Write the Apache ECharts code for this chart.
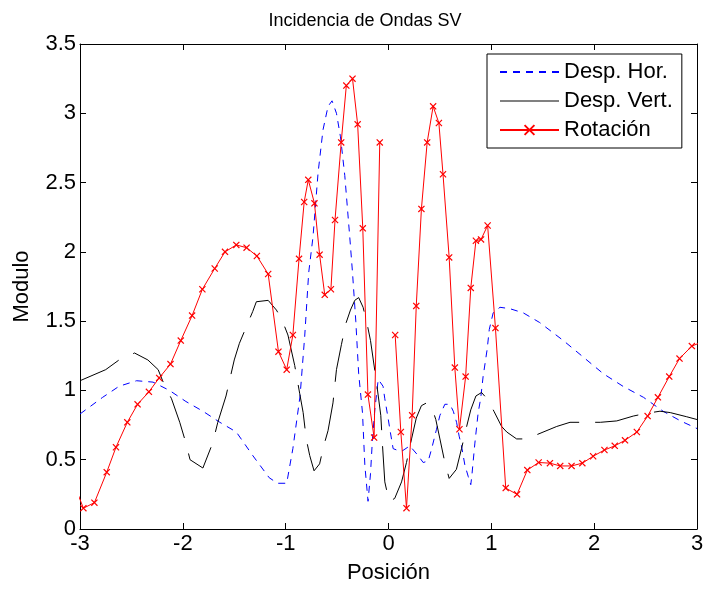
<!DOCTYPE html>
<html>
<head>
<meta charset="utf-8">
<script src="https://cdn.jsdelivr.net/npm/echarts@6/dist/echarts.min.js"></script>
<style>
html,body{margin:0;padding:0;background:#fff;}
#chart{width:718px;height:589px;}
</style>
</head>
<body>
<div id="chart"></div>
<script>
const titleText = 'Incidencia de Ondas SV';
const xName = 'Posición';
const yName = 'Modulo';
const seriesNames = ['Desp. Hor.', 'Desp. Vert.', 'Rotación'];

const horData = [[-3.0,0.83],[-2.78,0.95],[-2.62,1.03],[-2.45,1.07],[-2.29,1.06],[-2.13,1.00],[-1.97,0.92],[-1.805,0.85],[-1.64,0.77],[-1.48,0.70],[-1.32,0.53],[-1.16,0.37],[-1.08,0.33],[-0.99,0.33],[-0.93,0.58],[-0.86,0.96],[-0.815,1.39],[-0.776,1.85],[-0.734,2.11],[-0.685,2.57],[-0.637,2.88],[-0.588,3.05],[-0.549,3.09],[-0.506,3.00],[-0.467,2.83],[-0.425,2.55],[-0.377,2.11],[-0.35,1.85],[-0.318,1.5],[-0.29,1.12],[-0.253,0.84],[-0.23,0.46],[-0.199,0.20],[-0.175,0.40],[-0.156,0.65],[-0.133,0.86],[-0.10,1.08],[-0.085,1.09],[-0.053,1.03],[-0.036,0.94],[-0.004,0.80],[0.013,0.72],[0.045,0.58],[0.08,0.57],[0.127,0.56],[0.207,0.60],[0.288,0.53],[0.337,0.48],[0.386,0.49],[0.42,0.58],[0.467,0.72],[0.50,0.82],[0.548,0.90],[0.597,0.90],[0.63,0.85],[0.662,0.77],[0.687,0.67],[0.71,0.60],[0.743,0.46],[0.775,0.38],[0.80,0.32],[0.81,0.38],[0.84,0.62],[0.872,0.84],[0.896,0.94],[0.92,1.10],[0.96,1.30],[0.98,1.44],[1.018,1.56],[1.084,1.60],[1.18,1.59],[1.31,1.56],[1.47,1.49],[1.70,1.36],[1.895,1.24],[2.09,1.12],[2.28,1.03],[2.48,0.95],[2.67,0.85],[2.84,0.78],[3.0,0.725]];

const vertData = [[-3.0,1.07],[-2.75,1.15],[-2.62,1.22],[-2.47,1.27],[-2.34,1.22],[-2.24,1.15],[-2.18,1.04],[-2.11,0.94],[-2.03,0.77],[-1.97,0.62],[-1.93,0.50],[-1.805,0.44],[-1.71,0.62],[-1.66,0.77],[-1.58,0.96],[-1.50,1.22],[-1.45,1.34],[-1.32,1.57],[-1.285,1.64],[-1.17,1.65],[-1.09,1.58],[-1.036,1.51],[-0.978,1.40],[-0.912,1.18],[-0.864,0.98],[-0.83,0.84],[-0.80,0.65],[-0.766,0.53],[-0.724,0.42],[-0.67,0.47],[-0.63,0.60],[-0.588,0.71],[-0.54,0.91],[-0.506,1.15],[-0.458,1.33],[-0.416,1.48],[-0.37,1.58],[-0.328,1.65],[-0.29,1.67],[-0.247,1.60],[-0.208,1.48],[-0.175,1.36],[-0.117,1.06],[-0.075,0.82],[-0.058,0.60],[-0.036,0.34],[0.006,0.20],[0.06,0.22],[0.127,0.34],[0.175,0.48],[0.224,0.65],[0.27,0.80],[0.32,0.89],[0.37,0.91],[0.42,0.88],[0.46,0.79],[0.50,0.65],[0.548,0.48],[0.59,0.365],[0.66,0.43],[0.71,0.58],[0.76,0.74],[0.80,0.86],[0.85,0.96],[0.905,0.985],[0.97,0.93],[1.025,0.85],[1.10,0.74],[1.15,0.70],[1.246,0.65],[1.344,0.65],[1.44,0.68],[1.636,0.74],[1.765,0.77],[1.895,0.77],[2.06,0.77],[2.22,0.78],[2.38,0.815],[2.51,0.835],[2.64,0.85],[2.74,0.84],[2.90,0.81],[3.0,0.79]];

const rotData = [[-3.04,0.29],[-2.967,0.15],[-2.86,0.19],[-2.74,0.41],[-2.65,0.59],[-2.54,0.77],[-2.44,0.90],[-2.33,0.99],[-2.23,1.09],[-2.12,1.19],[-2.02,1.36],[-1.91,1.54],[-1.81,1.73],[-1.69,1.88],[-1.59,2.00],[-1.48,2.05],[-1.38,2.03],[-1.28,1.97],[-1.17,1.84],[-1.07,1.28],[-0.99,1.15],[-0.93,1.40],[-0.87,1.95],[-0.82,2.36],[-0.78,2.52],[-0.72,2.35],[-0.67,1.98],[-0.62,1.69],[-0.56,1.73],[-0.52,2.23],[-0.46,2.79],[-0.41,3.20],[-0.35,3.25],[-0.30,2.92],[-0.25,2.17],[-0.20,0.97],[-0.14,0.66],[-0.085,2.79],[0,'-'],[0.065,1.40],[0.12,0.70],[0.175,0.15],[0.23,0.82],[0.27,1.61],[0.32,2.31],[0.376,2.79],[0.434,3.05],[0.49,2.93],[0.53,2.56],[0.59,1.96],[0.645,1.165],[0.69,0.72],[0.75,1.10],[0.80,1.74],[0.85,2.08],[0.90,2.09],[0.964,2.19],[1.04,1.45],[1.14,0.295],[1.25,0.25],[1.35,0.425],[1.46,0.48],[1.57,0.475],[1.67,0.455],[1.78,0.455],[1.885,0.475],[1.99,0.525],[2.10,0.57],[2.20,0.60],[2.30,0.64],[2.415,0.70],[2.52,0.815],[2.62,0.95],[2.73,1.10],[2.83,1.23],[2.95,1.32],[3.05,1.35]];

const xMin = -3, xMax = 3, xStep = 1;
const yMin = 0, yMax = 3.5, yStep = 0.5;

const FONT = "'Liberation Sans', Arial, Helvetica, sans-serif";
const xSym = 'path://M0,1.2L1.2,0L5,3.8L8.8,0L10,1.2L6.2,5L10,8.8L8.8,10L5,6.2L1.2,10L0,8.8L3.8,5Z';

const chart = echarts.init(document.getElementById('chart'), null, {renderer: 'canvas'});
const axisCommon = {
  axisLine: {show: true, onZero: false, lineStyle: {color: '#000', width: 1}},
  axisTick: {show: true, inside: true, length: 6, lineStyle: {color: '#000'}},
  splitLine: {show: false}
};
chart.setOption({
  animation: false,
  backgroundColor: '#fff',
  title: {
    text: titleText, left: 360, top: 7, textAlign: 'center',
    textStyle: {fontFamily: FONT, fontSize: 18, fontWeight: 'normal', color: '#000'}
  },
  grid: {left: 80, right: 21, top: 44, bottom: 59},
  legend: {
    orient: 'vertical', left: 487, top: 54,
    padding: [7, 9, 7, 12], itemGap: 7, itemWidth: 59, itemHeight: 14,
    borderColor: '#000', borderWidth: 1, backgroundColor: '#fff',
    textStyle: {fontFamily: FONT, fontSize: 22, color: '#000'},
    data: [
      {name: seriesNames[0], itemStyle: {opacity: 0}},
      {name: seriesNames[1], itemStyle: {opacity: 0}, lineStyle: {type: 'solid', color: '#808080', width: 2}},
      {name: seriesNames[2]}
    ]
  },
  xAxis: [
    Object.assign({}, axisCommon, {
      type: 'value', min: xMin, max: xMax, interval: xStep, position: 'bottom',
      name: xName, nameLocation: 'middle', nameGap: 33,
      nameTextStyle: {fontFamily: FONT, fontSize: 22, color: '#000'},
      axisLabel: {fontFamily: FONT, fontSize: 22, color: '#000', margin: 4}
    }),
    Object.assign({}, axisCommon, {
      type: 'value', min: xMin, max: xMax, interval: xStep, position: 'top',
      axisLabel: {show: false}
    })
  ],
  yAxis: [
    Object.assign({}, axisCommon, {
      type: 'value', min: yMin, max: yMax, interval: yStep, position: 'left',
      name: yName, nameLocation: 'middle', nameGap: 47, nameRotate: 90,
      nameTextStyle: {fontFamily: FONT, fontSize: 22, color: '#000'},
      axisLabel: {fontFamily: FONT, fontSize: 22, color: '#000', margin: 4}
    }),
    Object.assign({}, axisCommon, {
      type: 'value', min: yMin, max: yMax, interval: yStep, position: 'right',
      axisLabel: {show: false}
    })
  ],
  series: [
    {
      name: seriesNames[0], type: 'line', data: horData, showSymbol: false, symbol: 'none',
      lineStyle: {color: '#0000ff', width: 1, type: [7, 6]}, itemStyle: {color: '#0000ff'},
      clip: true, z: 2
    },
    {
      name: seriesNames[1], type: 'line', data: vertData, showSymbol: false, symbol: 'none',
      lineStyle: {color: '#000', width: 1, type: [44, 16]}, itemStyle: {color: '#000'},
      clip: true, z: 3
    },
    {
      name: seriesNames[2], type: 'line', data: rotData, symbol: xSym, symbolSize: 7,
      showSymbol: true, showAllSymbol: true, connectNulls: false,
      lineStyle: {color: '#ff0000', width: 1},
      itemStyle: {color: '#ff0000', borderWidth: 0},
      clip: true, z: 4
    }
  ]
});
</script>
</body>
</html>
